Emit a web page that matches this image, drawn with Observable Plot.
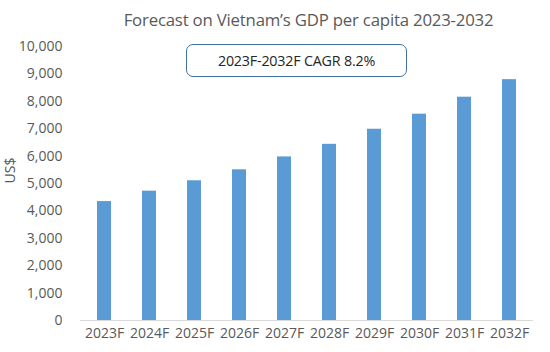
<!DOCTYPE html>
<html>
<head>
<meta charset="utf-8">
<script src="https://cdn.jsdelivr.net/npm/d3@7"></script>
<script src="https://cdn.jsdelivr.net/npm/@observablehq/plot@0.6"></script>
<style>
  html, body { margin: 0; padding: 0; background: #fff; }
  #wrap { position: relative; width: 550px; height: 352px; font-family: "Open Sans", sans-serif; }
  #title { position: absolute; left: 0; width: 617px; top: 8px; text-align: center; font-size: 16.8px; color: #595959; white-space: nowrap; letter-spacing: -0.2px; }
  #box { position: absolute; left: 186px; top: 44px; width: 219px; height: 31px; border: 1.5px solid #41719C; border-radius: 7px; background: #fff; box-sizing: content-box; display: flex; align-items: center; justify-content: center; font-size: 14.3px; color: #262626; letter-spacing: -0.2px; }
</style>
</head>
<body>
<div id="wrap">
  <div id="chart"></div>
  <div id="title"></div>
  <div id="box"></div>
</div>
<script>
const title = "Forecast on Vietnam’s GDP per capita 2023-2032";
const note = "2023F-2032F CAGR 8.2%";
const yLabel = "US$";
const years = ["2023F","2024F","2025F","2026F","2027F","2028F","2029F","2030F","2031F","2032F"];
const gdpPerCapita = [4340, 4720, 5100, 5500, 5970, 6430, 6980, 7530, 8150, 8790];
const yTicks = [0,1000,2000,3000,4000,5000,6000,7000,8000,9000,10000];

const data = years.map((y, i) => ({year: y, value: gdpPerCapita[i]}));

document.getElementById("title").textContent = title;
document.getElementById("box").textContent = note;

const chart = Plot.plot({
  width: 550,
  height: 352,
  marginLeft: 80,
  marginRight: 17,
  marginTop: 46,
  marginBottom: 32,
  style: { fontFamily: "Open Sans, sans-serif", fontSize: "14px", color: "#595959", background: "#fff" },
  x: { domain: years, paddingInner: 0.69, paddingOuter: 0.345, label: null, tickSize: 0, tickPadding: 8 },
  y: { domain: [0, 10000], ticks: yTicks, tickFormat: d3.format(","), label: null, tickSize: 0, tickPadding: 18 },
  marks: [
    Plot.barY(data, { x: "year", y: "value", fill: "#5B9BD5" }),
    Plot.ruleY([0], { stroke: "#d9d9d9", strokeWidth: 1 }),
    Plot.text([yLabel], { frameAnchor: "left", dx: -70, rotate: -90, fontSize: 14, fill: "#595959" })
  ]
});
document.getElementById("chart").appendChild(chart);
</script>
</body>
</html>
